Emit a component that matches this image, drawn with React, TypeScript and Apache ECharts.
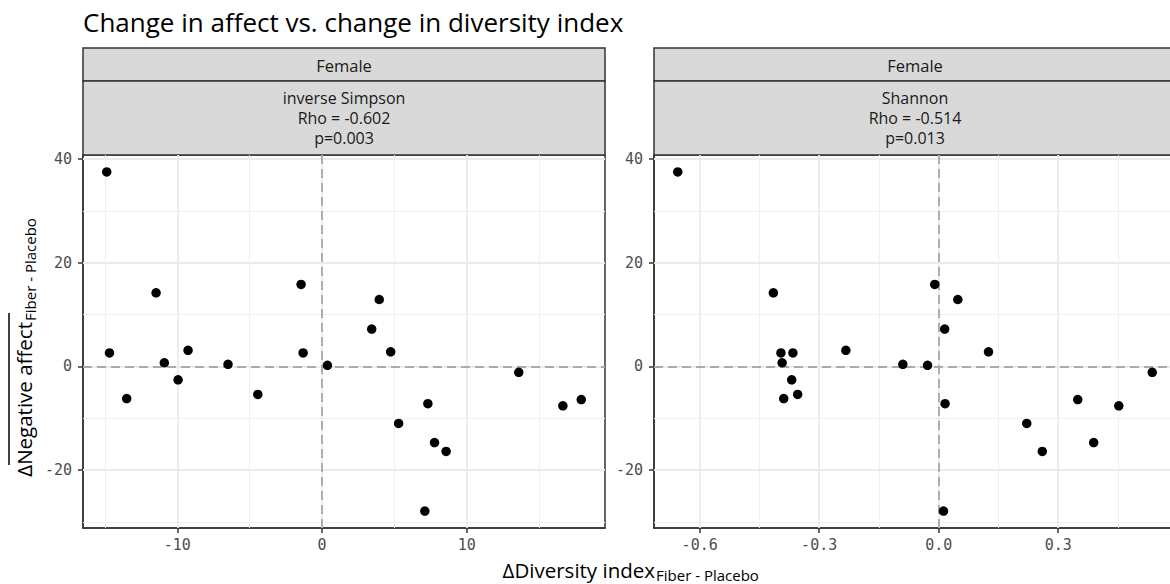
import React, { useEffect, useRef } from "react";
import * as echarts from "echarts";

// Δ Negative affect (Fiber - Placebo), one value per subject
const affect = [37.5, 2.6, 14.2, 0.7, 3.1, 0.4, 15.8, 2.6, 0.2, -6.2, -2.6, -5.4, 12.9, 7.2, 2.8, -1.15, -7.2, -11.0, -14.7, -16.4, -27.9, -7.6, -6.4];
// Δ inverse Simpson (Fiber - Placebo)
const invSimpson = [-14.88, -14.69, -11.47, -10.9, -9.26, -6.5, -1.45, -1.31, 0.37, -13.5, -9.95, -4.44, 3.95, 3.43, 4.74, 13.59, 7.31, 5.29, 7.77, 8.57, 7.1, 16.64, 17.91];
// Δ Shannon (Fiber - Placebo)
const shannon = [-0.655, -0.396, -0.415, -0.393, -0.233, -0.09, -0.01, -0.366, -0.028, -0.389, -0.369, -0.354, 0.048, 0.015, 0.125, 0.536, 0.016, 0.221, 0.389, 0.26, 0.012, 0.452, 0.349];

const yTicks = [-20, 0, 20, 40];
const yMinor = [-30, -10, 10, 30];
const xTicksL = [-10, 0, 10];
const xMinorL = [-15, -5, 5, 15];
const xTicksR = [-0.6, -0.3, 0, 0.3];
const xMinorR = [-0.45, -0.15, 0.15, 0.45];

const panelTitles = [
  { top: "Female", sub: ["inverse Simpson", "Rho = -0.602", "p=0.003"] },
  { top: "Female", sub: ["Shannon", "Rho = -0.514", "p=0.013"] },
];

const TXT = "'Open Sans', Roboto, sans-serif";
const MONO = "'DejaVu Sans Mono', monospace";

export default function App() {
  const ref = useRef<HTMLDivElement>(null);
  useEffect(() => {
    if (!ref.current) return;
    const chart = echarts.init(ref.current, undefined, { renderer: "svg" });

    const panels = [
      { left: 83, xMin: -16.52, xMax: 19.55, ticks: xTicksL, minor: xMinorL, xs: invSimpson, fmt: (v: number) => String(v) },
      { left: 654, xMin: -0.7146, xMax: 0.5956, ticks: xTicksR, minor: xMinorR, xs: shannon, fmt: (v: number) => v.toFixed(1) },
    ];
    const top = 155;
    const width = 522;
    const height = 373;

    const lineMajor = { color: "#ebebeb", width: 1.8, type: "solid" };
    const lineMinor = { color: "#f0f0f0", width: 1, type: "solid" };
    const lineZero = { color: "#aaaaaa", width: 1.9, type: [9, 5] };

    const option: any = {
      animation: false,
      backgroundColor: "#ffffff",
      grid: panels.map((p) => ({
        left: p.left,
        top,
        width,
        height,
        show: true,
        borderColor: "#333333",
        borderWidth: 1.5,
        backgroundColor: "#ffffff",
      })),
      xAxis: panels.map((p, i) => ({
        type: "value",
        gridIndex: i,
        min: p.xMin,
        max: p.xMax,
        axisLine: { show: true, onZero: false, lineStyle: { color: "#333333", width: 1.5 } },
        axisTick: { show: true, length: 5, lineStyle: { color: "#333333", width: 1.5 }, customValues: p.ticks },
        axisLabel: {
          customValues: p.ticks,
          formatter: p.fmt,
          color: "#4d4d4d",
          fontFamily: MONO,
          fontSize: 15,
          margin: 9,
        },
        splitLine: { show: false },
      })),
      yAxis: panels.map((p, i) => ({
        type: "value",
        gridIndex: i,
        min: -31.17,
        max: 40.77,
        axisLine: { show: true, onZero: false, lineStyle: { color: "#333333", width: 1.5 } },
        axisTick: { show: true, length: 5, lineStyle: { color: "#333333", width: 1.5 }, customValues: yTicks },
        axisLabel: {
          customValues: yTicks,
          color: "#4d4d4d",
          fontFamily: MONO,
          fontSize: 15,
          margin: 11,
        },
        splitLine: { show: false },
      })),
      series: panels.map((p, i) => ({
        type: "scatter",
        xAxisIndex: i,
        yAxisIndex: i,
        symbol: "circle",
        symbolSize: 9.5,
        itemStyle: { color: "#000000", opacity: 1 },
        z: 3,
        data: p.xs.map((x, k) => [x, affect[k]]),
        markLine: {
          silent: true,
          z: 1,
          animation: false,
          symbol: ["none", "none"],
          label: { show: false },
          emphasis: { disabled: true },
          data: [
            ...yMinor.map((v) => ({ yAxis: v, lineStyle: lineMinor })),
            ...p.minor.map((v) => ({ xAxis: v, lineStyle: lineMinor })),
            ...yTicks.map((v) => ({ yAxis: v, lineStyle: lineMajor })),
            ...p.ticks.map((v) => ({ xAxis: v, lineStyle: lineMajor })),
            { yAxis: 0, lineStyle: lineZero },
            { xAxis: 0, lineStyle: lineZero },
          ],
        },
      })),
      graphic: [
        {
          type: "text",
          x: 83,
          y: 22,
          style: {
            text: "Change in affect vs. change in diversity index",
            font: `26px ${TXT}`,
            fill: "#000000",
            align: "left",
            verticalAlign: "middle",
          },
        },
        ...panels.flatMap((p, i) => [
          {
            type: "rect",
            shape: { x: p.left, y: 48, width, height: 33 },
            style: { fill: "#d9d9d9", stroke: "#333333", lineWidth: 1.5 },
          },
          {
            type: "rect",
            shape: { x: p.left, y: 81, width, height: 74 },
            style: { fill: "#d9d9d9", stroke: "#333333", lineWidth: 1.5 },
          },
          {
            type: "text",
            x: p.left + width / 2,
            y: 65,
            style: { text: panelTitles[i].top, font: `16.5px ${TXT}`, fill: "#1a1a1a", align: "center", verticalAlign: "middle" },
          },
          ...panelTitles[i].sub.map((s, k) => ({
            type: "text",
            x: p.left + width / 2,
            y: 98 + k * 20,
            style: { text: s, font: `16px ${TXT}`, fill: "#1a1a1a", align: "center", verticalAlign: "middle" },
          })),
        ]),
        // x axis title
        {
          type: "text",
          x: 655,
          y: 570,
          style: { text: "ΔDiversity index", font: `20.5px ${TXT}`, fill: "#000000", align: "right", verticalAlign: "middle" },
        },
        {
          type: "text",
          x: 656,
          y: 575,
          style: { text: "Fiber - Placebo", font: `15px ${TXT}`, fill: "#000000", align: "left", verticalAlign: "middle" },
        },
        // y axis title
        {
          type: "text",
          x: 24,
          y: 322,
          rotation: Math.PI / 2,
          style: { text: "ΔNegative affect", font: `20.5px ${TXT}`, fill: "#000000", align: "right", verticalAlign: "middle" },
        },
        {
          type: "text",
          x: 30,
          y: 321,
          rotation: Math.PI / 2,
          style: { text: "Fiber - Placebo", font: `15px ${TXT}`, fill: "#000000", align: "left", verticalAlign: "middle" },
        },
        {
          type: "line",
          shape: { x1: 9, y1: 465, x2: 9, y2: 313 },
          style: { stroke: "#000000", lineWidth: 1.5 },
        },
      ],
    };

    chart.setOption(option);
    return () => chart.dispose();
  }, []);

  return (
    <div
      ref={ref}
      style={{ position: "fixed", left: 0, top: 0, width: 1180, height: 584, background: "#ffffff" }}
    />
  );
}
